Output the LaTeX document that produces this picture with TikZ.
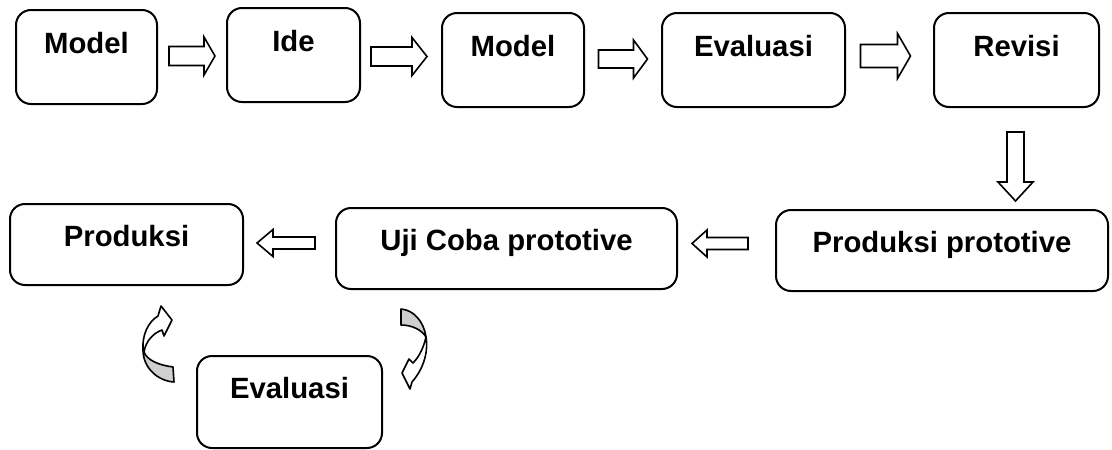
\documentclass[tikz,border=0pt]{standalone}
\usepackage{fontspec}
\setmainfont{Liberation Sans}
\usetikzlibrary{calc}

\tikzset{
  box/.style={draw, line width=2pt, rounded corners=15pt, inner sep=0pt,
              font=\bfseries\fontsize{29.3}{35}\selectfont, text height=21pt},
  toprow/.style={box, minimum height=94pt, text depth=29pt},
  lowrow/.style={box, minimum height=81pt, text depth=18pt},
  evalbox/.style={box, minimum height=92pt, text depth=28pt},
  arrowline/.style={draw, line width=1.6pt, fill=white, line join=miter},
  curvefront/.style={draw, line width=1.6pt, fill=white, line join=round},
  curveback/.style={draw, line width=1.6pt, fill=black!19, line join=round},
  % block arrow pointing right: length, shaft half-width, head half-width, head length
  pics/blockarrow/.style n args={4}{code={
    \path[arrowline] (-#1/2,#2) -- ({#1/2-#4},#2) -- ({#1/2-#4},#3) -- (#1/2,0)
      -- ({#1/2-#4},-#3) -- ({#1/2-#4},-#2) -- (-#1/2,-#2) -- cycle;}},
}

\begin{document}
\begin{tikzpicture}[x=1pt, y=-1pt]
\useasboundingbox (0,0) rectangle (1112,450);

% upper row
\node[toprow, minimum width=141pt] (m1)  at (86.5,57)   {Model};
\node[toprow, minimum width=133pt] (ide) at (293.5,55)  {Ide};
\node[toprow, minimum width=142pt] (m2)  at (513,60)    {Model};
\node[toprow, minimum width=183pt] (ev1) at (753.5,60)  {Evaluasi};
\node[toprow, minimum width=165pt] (rev) at (1016.5,60) {Revisi};

% lower row
\node[lowrow, minimum width=233pt] (prod) at (126.5,244.5) {Produksi};
\node[lowrow, minimum width=341pt] (uji)  at (506.5,248.5) {Uji Coba prototive};
\node[lowrow, minimum width=332pt] (pp)   at (942,250.5)   {Produksi prototive};
\node[evalbox, minimum width=185pt] (ev2) at (289.5,402)   {Evaluasi};

% block arrows between the boxes
\pic at ($(m1.east)!0.5!(ide.west)$) {blockarrow={46}{9.5}{19}{11}};
\pic at ($(ide.east)!0.5!(m2.west)+(-2,-1)$) {blockarrow={56}{9.5}{19}{15}};
\pic at ($(m2.east)!0.5!(ev1.west)+(0,-1)$) {blockarrow={49}{9}{19}{14}};
\pic at ($(ev1.east)!0.5!(rev.west)+(-4,-4)$) {blockarrow={50}{11.5}{22.5}{13}};
\pic[rotate=-90] at ($(rev.south)!0.5!(rev.south |- pp.north)+(-1,8)$) {blockarrow={69}{8.5}{17.5}{19}};
\pic[rotate=180] at ($(uji.east)!0.5!(pp.west)+(-6.5,-6)$) {blockarrow={56}{6}{13.5}{15}};
\pic[rotate=180] at ($(prod.east)!0.5!(uji.west)+(-3.5,-3.5)$) {blockarrow={58}{6}{13.5}{16}};

% curved arrow beside Produksi (back face, then front face with head)
\path[curveback] (143,350) .. controls (143,368) and (158,381) .. (174,382)
  -- (173,367) .. controls (158,365) and (147,360) .. (144,352) -- cycle;
\path[curvefront] (144,352) .. controls (146,340) and (154,333) .. (162,330)
  -- (164,336) -- (172,320) -- (161,306) -- (158,316)
  .. controls (148,322) and (142,335) .. (143,350) -- cycle;

% curved arrow beside Uji Coba prototive
\path[curveback] (401,309) .. controls (414,310) and (424,322) .. (426,337)
  .. controls (422,330) and (412,325) .. (401,325) -- cycle;
\path[curvefront] (426,337) .. controls (429,355) and (421,372) .. (412,382)
  -- (410,389) -- (402,373) -- (409,359) -- (413,363)
  .. controls (420,356) and (424,346) .. (426,337) -- cycle;
\end{tikzpicture}
\end{document}
